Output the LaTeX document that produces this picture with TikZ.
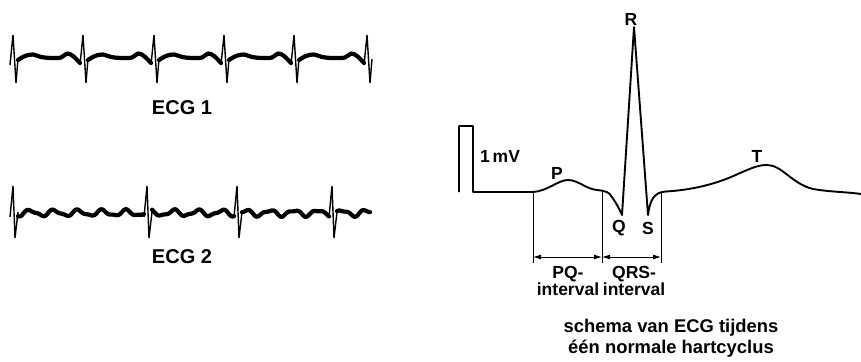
\documentclass[tikz,border=0pt]{standalone}
\usepackage{fontspec}
\setmainfont{Liberation Sans}
\usetikzlibrary{arrows.meta}
\begin{document}
\begin{tikzpicture}[x=1pt,y=-1pt,
  thickwave/.style={line width=4.2pt, line cap=round, line join=round},
  spike/.style={line width=1.4pt, line join=miter},
  ecgline/.style={line width=1.9pt, line join=round},
  tickline/.style={line width=0.9pt},
  dimarrow/.style={line width=0.9pt, {Latex[length=8pt,width=5pt]}-{Latex[length=8pt,width=5pt]}},
  lbl/.style={font=\fontsize{17.5}{17}\selectfont\bfseries, inner sep=0pt, align=center},
  biglbl/.style={font=\fontsize{20}{20}\selectfont\bfseries, inner sep=0pt},
  caplbl/.style={font=\fontsize{18.4}{20.5}\selectfont\bfseries, inner sep=0pt, align=center}]
\useasboundingbox (0,0) rectangle (861,361);

% ---------- ECG 1 ----------
\foreach \a/\b in {13/83, 83/154, 154/224, 224/294, 294/367} {
  \draw[thickwave] plot[smooth, tension=0.6] coordinates {
    (\a+5,60) (\a+12,56) (\a+20,54.5) (\a+28,57) (\a+38,58)
    (\b-22,57.5) (\b-16,53.5) (\b-10,56) (\b-3,63)};
}
\foreach \s in {13,83,154,224,294,367} {
  \draw[spike] (\s-3,65) -- (\s,35) -- (\s+3,83) -- (\s+5,59);
}
\node[biglbl] (ecg1) at (182,108) {ECG 1};

% ---------- ECG 2 ----------
\foreach \a/\b in {18/144, 152/234, 242/329, 337/370} {
  \draw[thickwave] plot[domain=\a:\b, samples=70, smooth]
    (\x, {213-2.8*sin(15*\x)-1.1*sin(29*\x+40)});
}
\foreach \s in {13,147,237,332} {
  \draw[spike] (\s-3,217) -- (\s,186) -- (\s+2,238) -- (\s+5,212);
}
\node[biglbl] (ecg2) at (182,257) {ECG 2};

% ---------- schematic ECG ----------
\coordinate (calA) at (459,192);
\coordinate (calB) at (459,126);
\coordinate (calC) at (473,126);
\coordinate (calD) at (473,192);
\coordinate (pStart) at (533,192);
\coordinate (pP) at (568,180);
\coordinate (pQ) at (622,215);
\coordinate (pR) at (634,27);
\coordinate (pS) at (648,215);
\coordinate (pT) at (767,165);
\coordinate (pEnd) at (861,194);

\draw[ecgline] (calA) -- (calB) -- (calC) -- (calD) -- (pStart)
  .. controls (548,191) and (558,180) .. (pP)
  .. controls (578,180) and (586,189) .. (597,190)
  .. controls (606,191) and (609,192) .. (612,197)
  .. controls (616,203) and (619,208) .. (pQ)
  -- (pR) -- (pS)
  .. controls (650,200) and (654,192) .. (666,191.5)
  .. controls (690,190) and (715,185) .. (740,173)
  .. controls (752,168) and (758,165) .. (pT)
  .. controls (782,165) and (792,184) .. (813,189)
  .. controls (830,192) and (848,192) .. (pEnd);

% interval marks
\coordinate (v1t) at (533,192); \coordinate (v1b) at (533,263);
\coordinate (v2t) at (602,190); \coordinate (v2b) at (602,263);
\coordinate (v3t) at (661,193); \coordinate (v3b) at (661,263);
\draw[tickline] (v1t) -- (v1b);
\draw[tickline] (v2t) -- (v2b);
\draw[tickline] (v3t) -- (v3b);
\coordinate (a1) at (533,257);
\coordinate (a2) at (602,257);
\coordinate (a3) at (661,257);
\draw[dimarrow] (a1) -- (a2);
\draw[dimarrow] (a2) -- (a3);

% labels
\node[lbl] (lR) at (631,19) {R};
\node[lbl] (lP) at (557,173) {P};
\node[lbl] (lT) at (757,156) {T};
\node[lbl] (lQ) at (619,228) {Q};
\node[lbl] (lS) at (648,228) {S};
\node[lbl] (lmV) at (500,156) {1\,mV};
\node[lbl, anchor=north] (lPQ) at (568,266) {PQ-\\interval};
\node[lbl, anchor=north] (lQRS) at (634,266) {QRS-\\interval};
\node[caplbl] (cap) at (671,338) {schema van ECG tijdens\\één normale hartcyclus};
\end{tikzpicture}
\end{document}
